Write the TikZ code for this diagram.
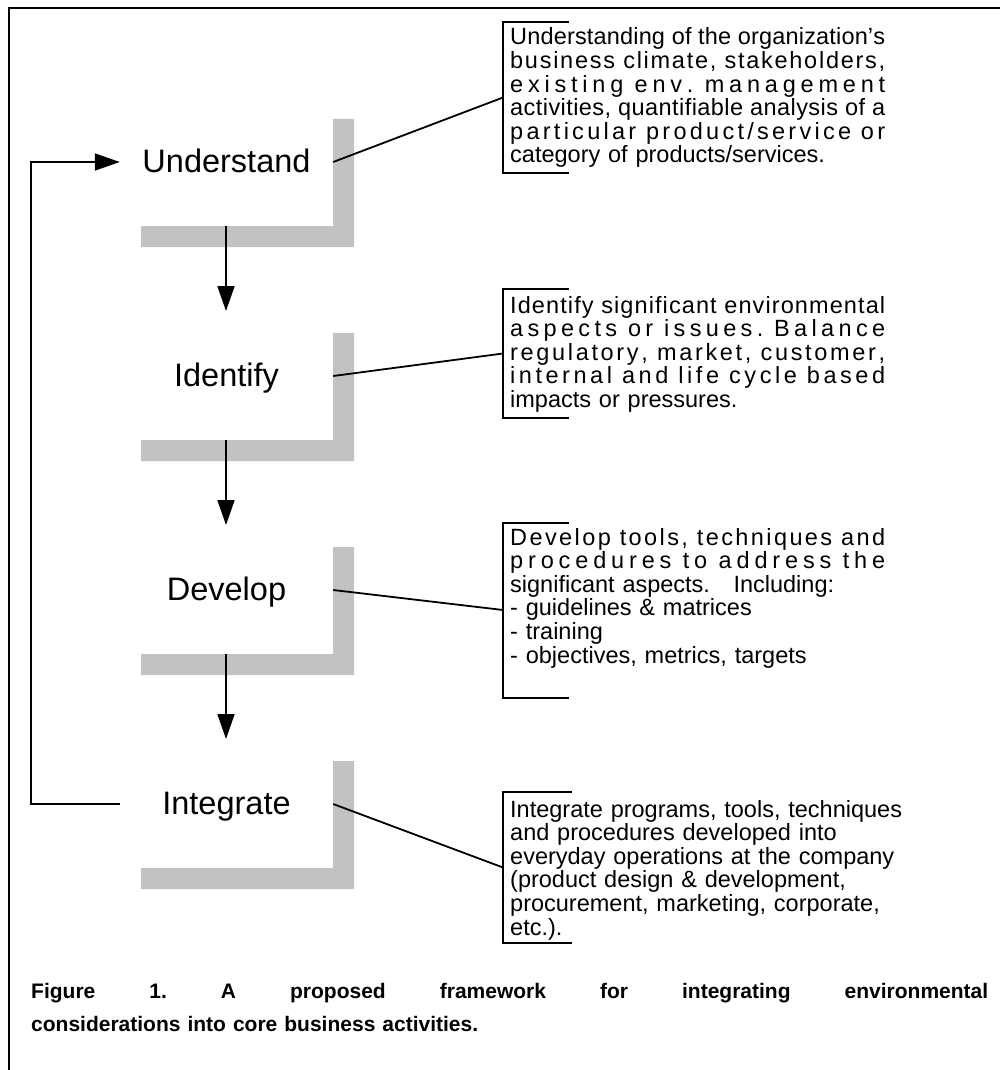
\documentclass[tikz,border=0pt]{standalone}
\usepackage{fontspec}
\setmainfont{Liberation Sans}
\usetikzlibrary{arrows.meta}
\definecolor{barg}{gray}{0.76}
\makeatletter
\newcommand\lsw[1]{\@tfor\lsc:=#1\do{\lsc\hskip0pt plus1fil\relax}}
\makeatother
\def\lsA#1 #2\lsend{\lsw{#1}\if\relax\detokenize{#2}\relax\else\hskip0.278em minus0.1em\relax\lsA#2\lsend\fi}
\newcommand\jl[1]{\leavevmode\hbox to 375pt{\lsA#1 \lsend\unskip}}
\newcommand\cs{\hskip0.28em plus1fil\relax}
\begin{document}
\begin{tikzpicture}[x=1pt,y=-1pt,
  lab/.style={inner sep=0pt, minimum width=213pt, text height=20pt, text depth=0pt, anchor=base, font=\fontsize{32.5}{38}\selectfont},
  blk/.style={inner sep=0pt, anchor=base west, text width=375pt, align=left, font=\fontsize{23.5}{23.6}\selectfont},
  arr/.style={line width=1.8pt, -{Triangle[length=25pt,width=17pt]}},
  conn/.style={line width=1.8pt},
  brk/.style={line width=2pt}]
\useasboundingbox (0,0) rectangle (999,1070);
% frame
\draw[line width=2pt] (8.5,1072) -- (8.5,8.5) -- (1001,8.5);
% L shaped bars
\foreach \t in {119,333,547,761}{
  \fill[barg] (141,{\t+107}) -- (333,{\t+107}) -- (333,\t) -- (354,\t) -- (354,{\t+128}) -- (141,{\t+128}) -- cycle;
}
% labels
\node[lab] (u) at (226.5,172) {Understand};
\node[lab] (idn) at (226.5,386) {Identify};
\node[lab] (dev) at (226.5,600) {Develop};
\node[lab] (intg) at (226.5,814) {Integrate};
% down arrows
\coordinate (a1) at (226,226); \coordinate (e1) at (226,311);
\coordinate (a2) at (226,440); \coordinate (e2) at (226,525);
\coordinate (a3) at (226,654); \coordinate (e3) at (226,739);
\draw[arr] (a1) -- (e1);
\draw[arr] (a2) -- (e2);
\draw[arr] (a3) -- (e3);
% feedback loop
\draw[arr] (intg.west) -- ++(-89,0) |- (u.west);
% brackets
\coordinate (b1) at (503,97.5);
\coordinate (b2) at (503,353.5);
\coordinate (b3) at (503,610);
\coordinate (b4) at (503,867.5);
\draw[brk] (569,22) -- (503,22) -- (503,173) -- (569,173);
\draw[brk] (569,289) -- (503,289) -- (503,418) -- (569,418);
\draw[brk] (569,523) -- (503,523) -- (503,698) -- (569,698);
\draw[brk] (572,792) -- (503,792) -- (503,943) -- (572,943);
% connectors
\draw[conn] (u.east) -- (b1);
\draw[conn] (idn.east) -- (b2);
\draw[conn] (dev.east) -- (b3);
\draw[conn] (intg.east) -- (b4);
% text blocks
\node[blk] (t1) at (510,45) {\jl{Understanding of the organization’s}\\
\jl{business climate, stakeholders,}\\
\jl{existing env. management}\\
\jl{activities, quantifiable analysis of a}\\
\jl{particular product/service or}\\
category of products/services.};
\node[blk] (t2) at (510,313) {\jl{Identify significant environmental}\\
\jl{aspects or issues. Balance}\\
\jl{regulatory, market, customer,}\\
\jl{internal and life cycle based}\\
impacts or pressures.};
\node[blk] (t3) at (510,545) {\jl{Develop tools, techniques and}\\
\jl{procedures to address the}\\
significant aspects.\ \ \ Including:\\
- guidelines \& matrices\\
- training\\
- objectives, metrics, targets};
\node[blk, text width=440pt] (t4) at (510,817) {Integrate programs, tools, techniques\\
and procedures developed into\\
everyday operations at the company\\
(product design \& development,\\
procurement, marketing, corporate,\\
etc.).};
% caption
\node[inner sep=0pt, anchor=base west, text width=957pt, align=left, font=\fontsize{21}{33}\selectfont\bfseries] (cap) at (31,998)
{\leavevmode\hbox to 957pt{Figure\cs 1.\cs A\cs proposed\cs framework\cs for\cs integrating\cs environmental}\\
considerations into core business activities.};
\end{tikzpicture}
\end{document}
